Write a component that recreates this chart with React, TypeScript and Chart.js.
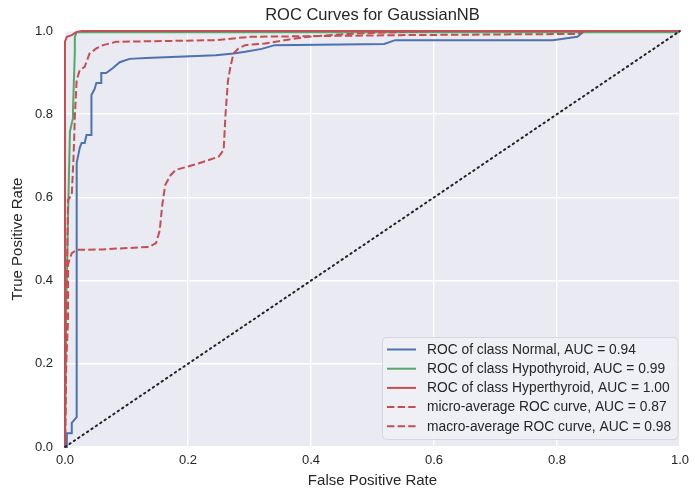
import React, { useEffect, useRef } from "react";
import { Chart, registerables } from "chart.js";

Chart.register(...registerables);

const title = "ROC Curves for GaussianNB";
const xLabel = "False Positive Rate";
const yLabel = "True Positive Rate";

const normalFpr = [0, 0.003, 0.003, 0.011, 0.011, 0.019, 0.019, 0.024, 0.027, 0.032, 0.035, 0.043, 0.043, 0.048, 0.051, 0.059, 0.059, 0.067, 0.078, 0.089, 0.105, 0.132, 0.245, 0.274, 0.293, 0.32, 0.341, 0.519, 0.537, 0.793, 0.833, 0.845, 1.0];
const normalTpr = [0, 0, 0.033, 0.033, 0.058, 0.072, 0.683, 0.719, 0.731, 0.731, 0.75, 0.75, 0.846, 0.86, 0.875, 0.875, 0.899, 0.899, 0.911, 0.925, 0.933, 0.935, 0.942, 0.946, 0.95, 0.957, 0.966, 0.969, 0.978, 0.978, 0.986, 1.0, 1.0];

const hypoFpr = [0, 0.002, 0.005, 0.008, 0.011, 0.013, 0.013, 0.016, 0.016, 0.019, 0.024, 1];
const hypoTpr = [0, 0.33, 0.56, 0.758, 0.778, 0.79, 0.81, 0.95, 0.986, 0.997, 0.997, 0.997];

const hyperFpr = [0, 0, 0.003, 0.011, 0.019, 0.027, 1];
const hyperTpr = [0, 0.975, 0.986, 0.99, 0.998, 1.0, 1.0];

const microFpr = [0, 0.002, 0.005, 0.005, 0.011, 0.019, 0.06, 0.137, 0.148, 0.154, 0.158, 0.163, 0.172, 0.18, 0.218, 0.25, 0.258, 0.261, 0.265, 0.269, 0.274, 0.282, 0.293, 0.325, 0.357, 0.395, 0.46, 0.513, 0.6, 1];
const microTpr = [0, 0.2, 0.31, 0.44, 0.466, 0.474, 0.475, 0.481, 0.49, 0.52, 0.58, 0.63, 0.654, 0.666, 0.682, 0.698, 0.714, 0.8, 0.88, 0.914, 0.946, 0.958, 0.966, 0.97, 0.978, 0.986, 0.993, 0.996, 1.0, 1.0];

const macroFpr = [0, 0.002, 0.005, 0.011, 0.014, 0.016, 0.019, 0.024, 0.032, 0.04, 0.051, 0.062, 0.083, 0.245, 0.3, 0.54, 0.833, 0.845, 1];
const macroTpr = [0, 0.3, 0.594, 0.606, 0.7, 0.794, 0.882, 0.906, 0.914, 0.946, 0.958, 0.966, 0.974, 0.978, 0.986, 0.99, 0.993, 1.0, 1.0];

const diagX = [0, 1];
const diagY = [0, 1];

const seriesLabels = [
  "ROC of class Normal, AUC = 0.94",
  "ROC of class Hypothyroid, AUC = 0.99",
  "ROC of class Hyperthyroid, AUC = 1.00",
  "micro-average ROC curve, AUC = 0.87",
  "macro-average ROC curve, AUC = 0.98",
];

const xTicks = [0, 0.2, 0.4, 0.6, 0.8, 1.0];

const BLUE = "#4C72B0";
const GREEN = "#55A868";
const RED = "#C44E52";
const TEXT = "#262626";
const FONT = "'Liberation Sans', Arial, sans-serif";
const DASH = [7.4, 3.2];

function pts(xs: number[], ys: number[]) {
  return xs.map((x, i) => ({ x, y: ys[i] }));
}

export default function App() {
  const ref = useRef<HTMLCanvasElement | null>(null);

  useEffect(() => {
    document.body.style.margin = "0";
    const canvas = ref.current!;
    const styles = [
      { color: BLUE, dash: [] as number[] },
      { color: GREEN, dash: [] as number[] },
      { color: RED, dash: [] as number[] },
      { color: RED, dash: DASH },
      { color: RED, dash: DASH },
    ];
    const seriesData = [
      pts(normalFpr, normalTpr),
      pts(hypoFpr, hypoTpr),
      pts(hyperFpr, hyperTpr),
      pts(microFpr, microTpr),
      pts(macroFpr, macroTpr),
    ];
    const datasets: any[] = seriesData.map((d, i) => ({
      label: seriesLabels[i],
      data: d,
      showLine: true,
      borderColor: styles[i].color,
      backgroundColor: styles[i].color,
      borderWidth: 2,
      borderDash: styles[i].dash,
      pointRadius: 0,
      tension: 0,
      fill: false,
      clip: 3,
      order: 10 - i,
    }));
    datasets.push({
      label: "diagonal",
      data: pts(diagX, diagY),
      showLine: true,
      borderColor: "#222222",
      borderWidth: 2,
      borderDash: [1.5, 3.8],
      borderCapStyle: "round",
      pointRadius: 0,
      fill: false,
      clip: 3,
      order: 0,
    });

    const deco = {
      id: "deco",
      beforeDraw(chart: any) {
        const { ctx, chartArea } = chart;
        ctx.save();
        ctx.fillStyle = "#ffffff";
        ctx.fillRect(0, 0, chart.width, chart.height);
        ctx.fillStyle = "#EAEAF2";
        ctx.fillRect(chartArea.left, chartArea.top, chartArea.right - chartArea.left, chartArea.bottom - chartArea.top);
        ctx.restore();
      },
      afterDraw(chart: any) {
        const { ctx, chartArea } = chart;
        const cx = (chartArea.left + chartArea.right) / 2;
        const cy = (chartArea.top + chartArea.bottom) / 2;
        ctx.save();
        ctx.fillStyle = TEXT;
        ctx.textAlign = "center";
        ctx.textBaseline = "middle";
        ctx.font = `16.5px ${FONT}`;
        ctx.fillText(title, cx, 15);
        ctx.font = `15px ${FONT}`;
        ctx.fillText(xLabel, cx, 481);
        ctx.save();
        ctx.translate(18, cy);
        ctx.rotate(-Math.PI / 2);
        ctx.fillText(yLabel, 0, 0);
        ctx.restore();

        // legend
        const lx = 382.5, ly = 337.5, lw = 295.5, lh = 102;
        const r = 4;
        ctx.beginPath();
        ctx.moveTo(lx + r, ly);
        ctx.lineTo(lx + lw - r, ly);
        ctx.arcTo(lx + lw, ly, lx + lw, ly + r, r);
        ctx.lineTo(lx + lw, ly + lh - r);
        ctx.arcTo(lx + lw, ly + lh, lx + lw - r, ly + lh, r);
        ctx.lineTo(lx + r, ly + lh);
        ctx.arcTo(lx, ly + lh, lx, ly + lh - r, r);
        ctx.lineTo(lx, ly + r);
        ctx.arcTo(lx, ly, lx + r, ly, r);
        ctx.closePath();
        ctx.fillStyle = "rgba(240,240,246,0.9)";
        ctx.fill();
        ctx.strokeStyle = "#D6D6DE";
        ctx.lineWidth = 1;
        ctx.stroke();

        ctx.font = `13.8px ${FONT}`;
        ctx.textAlign = "left";
        ctx.textBaseline = "middle";
        for (let i = 0; i < seriesLabels.length; i++) {
          const y = 349.5 + i * 19.2;
          ctx.beginPath();
          ctx.setLineDash(styles[i].dash);
          ctx.strokeStyle = styles[i].color;
          ctx.lineWidth = 2;
          ctx.moveTo(387, y);
          ctx.lineTo(416, y);
          ctx.stroke();
          ctx.setLineDash([]);
          ctx.fillStyle = TEXT;
          ctx.fillText(seriesLabels[i], 427, y + 0.5);
        }
        ctx.restore();
      },
    };

    const chart = new Chart(canvas, {
      type: "scatter",
      data: { datasets },
      options: {
        animation: false,
        responsive: false,
        devicePixelRatio: 1,
        layout: { padding: { top: 31, right: 10, left: 0, bottom: 0 } },
        plugins: { legend: { display: false }, tooltip: { enabled: false }, title: { display: false } },
        scales: {
          x: {
            type: "linear",
            min: 0,
            max: 1,
            afterBuildTicks(scale: any) {
              scale.ticks = xTicks.map((v) => ({ value: v }));
            },
            afterFit(scale: any) {
              scale.height = 44;
            },
            grid: { color: "#ffffff", lineWidth: 1.4, drawTicks: false },
            border: { display: false },
            ticks: {
              padding: 6,
              color: TEXT,
              font: { family: FONT, size: 13 },
              callback: (v: any) => Number(v).toFixed(1),
            },
          },
          y: {
            type: "linear",
            min: 0,
            max: 1,
            afterBuildTicks(scale: any) {
              scale.ticks = xTicks.map((v) => ({ value: v }));
            },
            afterFit(scale: any) {
              scale.width = 65;
            },
            grid: { color: "#ffffff", lineWidth: 1.4, drawTicks: false },
            border: { display: false },
            ticks: {
              padding: 12,
              color: TEXT,
              font: { family: FONT, size: 13 },
              callback: (v: any) => Number(v).toFixed(1),
            },
          },
        },
      } as any,
      plugins: [deco],
    });
    return () => chart.destroy();
  }, []);

  return (
    <div style={{ position: "absolute", left: 0, top: 0, width: 695, height: 491 }}>
      <canvas ref={ref} width={695} height={491} style={{ width: 695, height: 491, display: "block" }} />
    </div>
  );
}
